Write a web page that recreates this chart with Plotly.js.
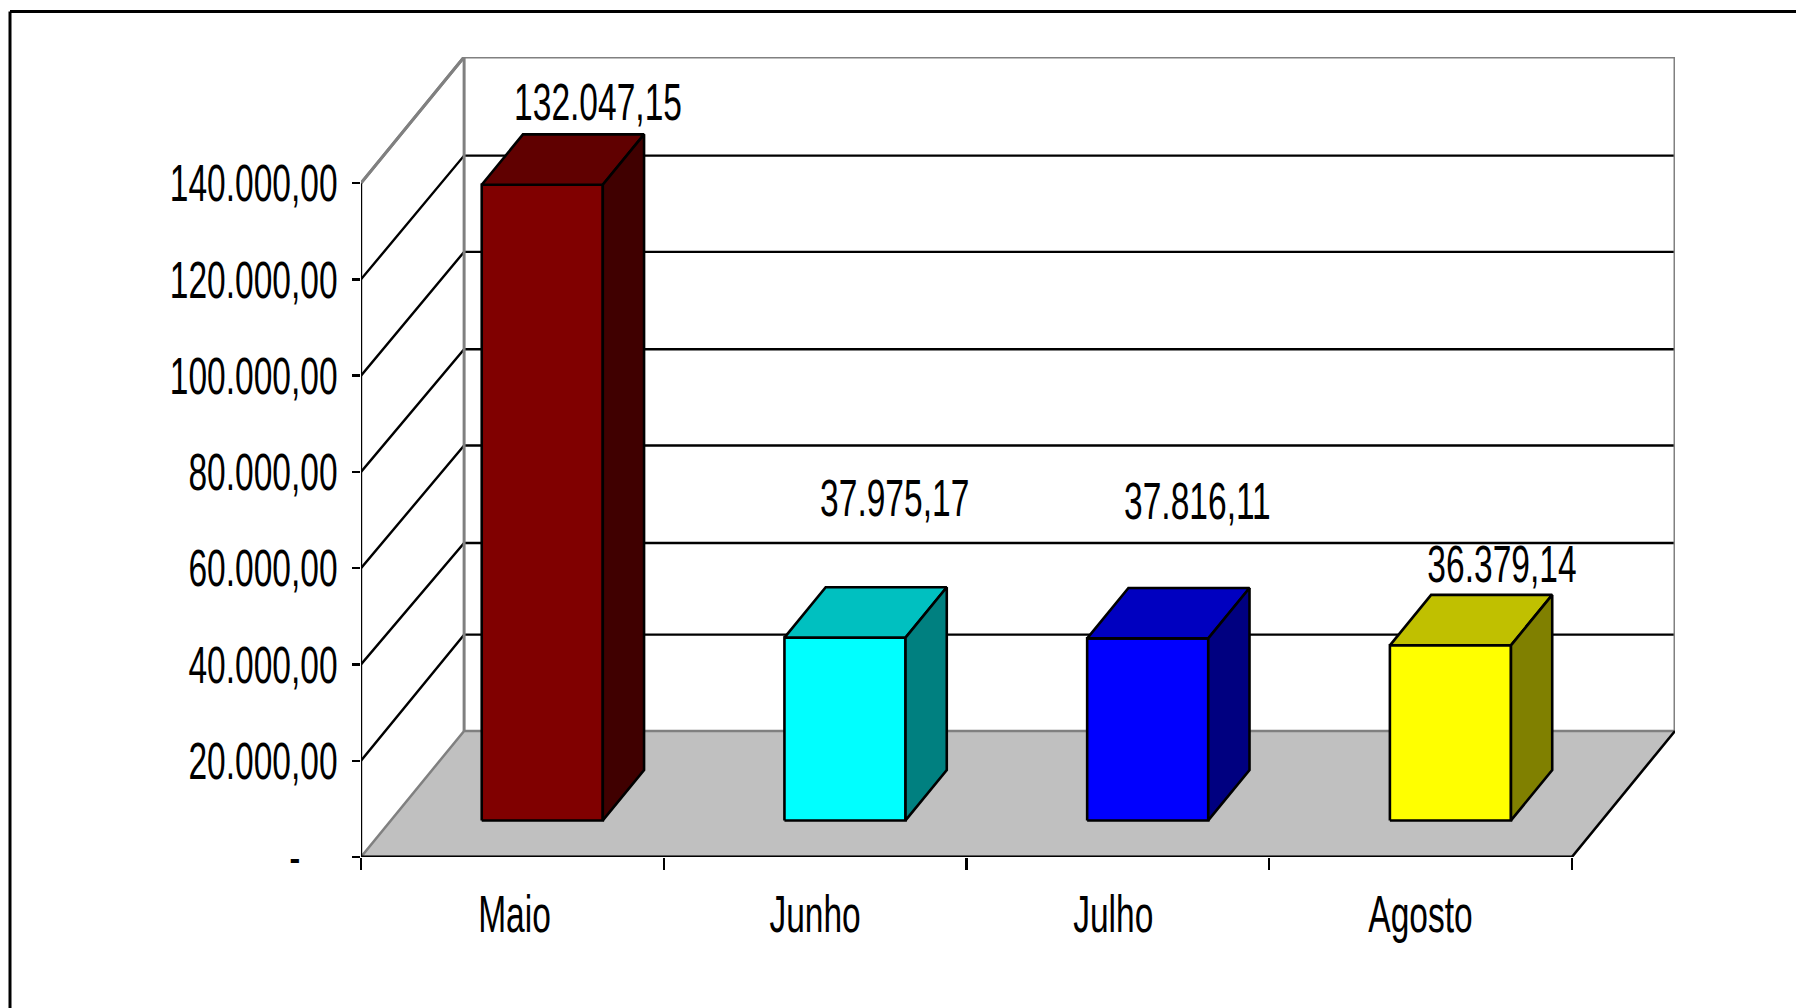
<!DOCTYPE html>
<html>
<head>
<meta charset="utf-8">
<script src="https://cdn.plot.ly/plotly-3.0.1.min.js"></script>
<style>html,body{margin:0;padding:0;background:#fff;overflow:hidden}</style>
</head>
<body>
<div id="chart" style="width:1796px;height:1008px"></div>
<script>
const categories = ["Maio", "Junho", "Julho", "Agosto"];
const values = [132047.15, 37975.17, 37816.11, 36379.14];
const valueLabels = ["132.047,15", "37.975,17", "37.816,11", "36.379,14"];
const yTickValues = [0, 20000, 40000, 60000, 80000, 100000, 120000, 140000];
const yTickLabels = ["-\u00a0\u00a0\u00a0\u00a0", "20.000,00", "40.000,00", "60.000,00", "80.000,00", "100.000,00", "120.000,00", "140.000,00"];
const xBoundaries = [0, 1, 2, 3, 4];

// styles and layout of the pseudo-3D box
const faceColors = ["#800000", "#00FFFF", "#0000FF", "#FFFF00"];
const topColors = ["#600000", "#00C0C0", "#0000C0", "#C0C000"];
const sideColors = ["#400000", "#008080", "#000080", "#808000"];
const labelX = [0.783, 1.763, 2.763, 3.769];
const labelY = [155750, 73550, 72850, 59750];
const catLabelX = [0.507, 1.5, 2.485, 3.5];
const wallGridShift = [0, 0, -950, -710, -710, -480, -480, 0];
const DX = 0.3406, DY = 26190, YMAX = 140000;
const D0 = 0.29, D1 = 0.69, BAR_W = 0.4, GRAY = "#808080";
const FONT = {family: "Liberation Sans, Arial, sans-serif", size: 52, color: "#000"};
const SQUEEZE = 0.645;

const proj = (c, v, d) => [c + d * DX, v + d * DY];
function poly(pts, fill, lineColor, width) {
  const t = {
    type: "scatter", mode: "lines", cliponaxis: false, hoverinfo: "skip", showlegend: false,
    x: pts.map(p => p[0]), y: pts.map(p => p[1]),
    line: {color: lineColor, width: width, simplify: false}
  };
  if (fill) { t.fill = "toself"; t.fillcolor = fill; }
  return t;
}

const traces = [];
// grid on the walls
yTickValues.forEach((v, i) => {
  const c = (i === yTickValues.length - 1) ? GRAY : "#000";
  if (i > 0) {
    const s = wallGridShift[i];
    traces.push(poly([proj(0, v, 0), proj(0, v + s, 1), proj(4, v + s, 1)], null, c, i === yTickValues.length - 1 ? 3 : 2.4));
  }
});
// wall edges
traces.push(poly([proj(0, 0, 1), proj(0, YMAX, 1)], null, GRAY, 3));
traces.push(poly([proj(4, 0, 1), proj(4, YMAX, 1)], null, GRAY, 3));
// floor
traces.push(poly([proj(0, 0, 0), proj(4, 0, 0), proj(4, 0, 1), proj(0, 0, 1), proj(0, 0, 0)], "#C0C0C0", GRAY, 2.5));
traces.push(poly([proj(4, 0, 0), proj(4, 0, 1)], null, "#000", 2.4));
// bars
values.forEach((v, i) => {
  const l = i + 0.5 - BAR_W / 2, r = i + 0.5 + BAR_W / 2;
  traces.push(poly([proj(l, 0, D0), proj(r, 0, D0), proj(r, v, D0), proj(l, v, D0), proj(l, 0, D0)], faceColors[i], "#000", 2.6));
  traces.push(poly([proj(l, v, D0), proj(r, v, D0), proj(r, v, D1), proj(l, v, D1), proj(l, v, D0)], topColors[i], "#000", 2.6));
  traces.push(poly([proj(r, 0, D0), proj(r, 0, D1), proj(r, v, D1), proj(r, v, D0), proj(r, 0, D0)], sideColors[i], "#000", 2.6));
});
// front axes
traces.push(poly([proj(0, 0, 0), proj(0, YMAX, 0)], null, "#000", 2.4));
traces.push(poly([proj(0, YMAX, 0), proj(0, YMAX, 1)], null, GRAY, 3));
traces.push(poly([proj(0, 0, 0), proj(4, 0, 0)], null, "#000", 3.2));
// value labels
traces.push({
  type: "scatter", mode: "text", cliponaxis: false, hoverinfo: "skip", showlegend: false,
  x: labelX, y: labelY, text: valueLabels, textposition: "middle center", textfont: FONT
});

const layout = {
  width: 1796, height: 1008,
  margin: {l: 361, r: 121, t: 57, b: 151, pad: 0},
  paper_bgcolor: "#fff", plot_bgcolor: "#fff", showlegend: false,
  font: FONT,
  xaxis: {
    range: [0, 4 + DX], showgrid: false, zeroline: false, showline: false,
    tickmode: "array", tickvals: catLabelX, ticktext: categories,
    ticks: "", tickfont: FONT, ticklabelstandoff: 22
  },
  xaxis2: {
    overlaying: "x", side: "bottom", anchor: "y",
    range: [0, 4 + DX], showgrid: false, zeroline: false, showline: false,
    tickmode: "array", tickvals: xBoundaries, ticktext: xBoundaries.map(() => ""),
    ticks: "outside", ticklen: 12, tickwidth: 2.4, tickcolor: "#000"
  },
  yaxis: {
    range: [0, YMAX + DY], showgrid: false, zeroline: false, showline: false,
    tickmode: "array", tickvals: yTickValues, ticktext: yTickLabels,
    ticks: "outside", ticklen: 8, tickwidth: 2.4, tickcolor: "#000", tickfont: FONT,
    ticklabelstandoff: 4
  },
  shapes: [
    {type: "line", xref: "paper", yref: "paper", x0: -351 / 1314, x1: -351 / 1314, y0: -151 / 800, y1: 1 + 45.5 / 800, line: {color: "#000", width: 3}},
    {type: "line", xref: "paper", yref: "paper", x0: -351 / 1314, x1: 1435 / 1314, y0: 1 + 45.5 / 800, y1: 1 + 45.5 / 800, line: {color: "#000", width: 3}}
  ]
};
// tick marks of the second x axis need a trace bound to it
traces.push({type: "scatter", mode: "none", x: xBoundaries, y: xBoundaries.map(() => 0), xaxis: "x2", yaxis: "y", hoverinfo: "skip", showlegend: false});

Plotly.newPlot("chart", traces, layout, {displayModeBar: false, staticPlot: true}).then(() => {
  document.querySelectorAll("#chart svg text").forEach(t => {
    const w = t.getComputedTextLength();
    if (w > 0) {
      t.setAttribute("textLength", w * SQUEEZE);
      t.setAttribute("lengthAdjust", "spacingAndGlyphs");
    }
  });
});
</script>
</body>
</html>
